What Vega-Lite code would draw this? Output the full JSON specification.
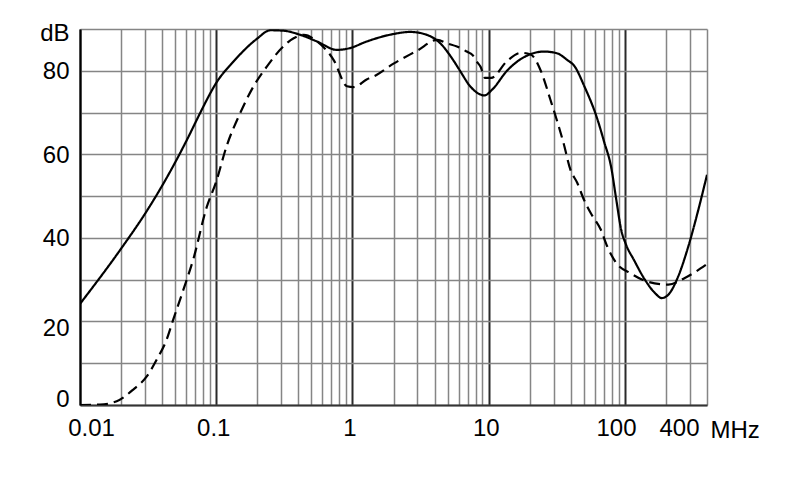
{
  "$schema": "https://vega.github.io/schema/vega-lite/v6.json",
  "width": 627,
  "height": 376,
  "autosize": "none",
  "padding": {"left": 80, "top": 29, "right": 83, "bottom": 94},
  "background": "white",
  "config": {
    "view": {"stroke": null},
    "font": "Liberation Sans"
  },
  "data": {
    "values": [
      {"series": "solid", "f": 0.01, "db": 24.2},
      {"series": "solid", "f": 0.02, "db": 37.4},
      {"series": "solid", "f": 0.031, "db": 46.5},
      {"series": "solid", "f": 0.0433, "db": 54.4},
      {"series": "solid", "f": 0.061, "db": 63.5},
      {"series": "solid", "f": 0.0762, "db": 69.9},
      {"series": "solid", "f": 0.09, "db": 74.5},
      {"series": "solid", "f": 0.1, "db": 77.1},
      {"series": "solid", "f": 0.133, "db": 82.1},
      {"series": "solid", "f": 0.198, "db": 87.6},
      {"series": "solid", "f": 0.25, "db": 89.7},
      {"series": "solid", "f": 0.31, "db": 89.6},
      {"series": "solid", "f": 0.414, "db": 88.6},
      {"series": "solid", "f": 0.55, "db": 87},
      {"series": "solid", "f": 0.77, "db": 85},
      {"series": "solid", "f": 0.95, "db": 85.4},
      {"series": "solid", "f": 1.27, "db": 87},
      {"series": "solid", "f": 2.0, "db": 88.8},
      {"series": "solid", "f": 2.65, "db": 89.3},
      {"series": "solid", "f": 3.52, "db": 88.6},
      {"series": "solid", "f": 4.4, "db": 86.6},
      {"series": "solid", "f": 5.5, "db": 82.5},
      {"series": "solid", "f": 6.18, "db": 79.9},
      {"series": "solid", "f": 7.3, "db": 76.3},
      {"series": "solid", "f": 8.7, "db": 74.3},
      {"series": "solid", "f": 9.3, "db": 74.1},
      {"series": "solid", "f": 10.6, "db": 75.5},
      {"series": "solid", "f": 13.7, "db": 80.1},
      {"series": "solid", "f": 19.3, "db": 83.7},
      {"series": "solid", "f": 25.5, "db": 84.6},
      {"series": "solid", "f": 31.6, "db": 84.2},
      {"series": "solid", "f": 38, "db": 82.5},
      {"series": "solid", "f": 42.4, "db": 81.2},
      {"series": "solid", "f": 50.3, "db": 76.3},
      {"series": "solid", "f": 62.9, "db": 68.3},
      {"series": "solid", "f": 70.3, "db": 63},
      {"series": "solid", "f": 79.1, "db": 57},
      {"series": "solid", "f": 86.3, "db": 49.2},
      {"series": "solid", "f": 93.7, "db": 42.0},
      {"series": "solid", "f": 101.8, "db": 38.4},
      {"series": "solid", "f": 116, "db": 34.8},
      {"series": "solid", "f": 140, "db": 30},
      {"series": "solid", "f": 166, "db": 26.8},
      {"series": "solid", "f": 186, "db": 25.6},
      {"series": "solid", "f": 208, "db": 26.4},
      {"series": "solid", "f": 246, "db": 30.8},
      {"series": "solid", "f": 292, "db": 38},
      {"series": "solid", "f": 346, "db": 46.8},
      {"series": "solid", "f": 400, "db": 55.1},
      {"series": "dashed", "f": 0.01, "db": 0},
      {"series": "dashed", "f": 0.014, "db": 0.1},
      {"series": "dashed", "f": 0.0186, "db": 0.9},
      {"series": "dashed", "f": 0.0246, "db": 3.7},
      {"series": "dashed", "f": 0.031, "db": 6.9},
      {"series": "dashed", "f": 0.0366, "db": 10.9},
      {"series": "dashed", "f": 0.0433, "db": 15.7},
      {"series": "dashed", "f": 0.0484, "db": 20.5},
      {"series": "dashed", "f": 0.0574, "db": 27.6},
      {"series": "dashed", "f": 0.068, "db": 35},
      {"series": "dashed", "f": 0.085, "db": 47.3},
      {"series": "dashed", "f": 0.1, "db": 53.5},
      {"series": "dashed", "f": 0.119, "db": 61.9},
      {"series": "dashed", "f": 0.15, "db": 69.9},
      {"series": "dashed", "f": 0.188, "db": 76.3},
      {"series": "dashed", "f": 0.235, "db": 81},
      {"series": "dashed", "f": 0.31, "db": 85.8},
      {"series": "dashed", "f": 0.37, "db": 87.8},
      {"series": "dashed", "f": 0.44, "db": 88.6},
      {"series": "dashed", "f": 0.55, "db": 87},
      {"series": "dashed", "f": 0.73, "db": 82.5},
      {"series": "dashed", "f": 0.91, "db": 76.3},
      {"series": "dashed", "f": 1.02, "db": 76.1},
      {"series": "dashed", "f": 1.27, "db": 77.9},
      {"series": "dashed", "f": 1.5, "db": 79},
      {"series": "dashed", "f": 2.0, "db": 81.7},
      {"series": "dashed", "f": 2.98, "db": 84.8},
      {"series": "dashed", "f": 4.2, "db": 87.4},
      {"series": "dashed", "f": 4.9, "db": 86.6},
      {"series": "dashed", "f": 5.85, "db": 85.8},
      {"series": "dashed", "f": 6.9, "db": 84.6},
      {"series": "dashed", "f": 7.6, "db": 83.8},
      {"series": "dashed", "f": 8.3, "db": 81.9},
      {"series": "dashed", "f": 8.7, "db": 81},
      {"series": "dashed", "f": 9.4, "db": 78.3},
      {"series": "dashed", "f": 10.4, "db": 78.3},
      {"series": "dashed", "f": 13.7, "db": 82.4},
      {"series": "dashed", "f": 17.2, "db": 84.3},
      {"series": "dashed", "f": 20.3, "db": 83.9},
      {"series": "dashed", "f": 24.1, "db": 80},
      {"series": "dashed", "f": 28.4, "db": 73},
      {"series": "dashed", "f": 35.4, "db": 62.7},
      {"series": "dashed", "f": 39.8, "db": 56.3},
      {"series": "dashed", "f": 44.6, "db": 53.2},
      {"series": "dashed", "f": 49.9, "db": 49.2},
      {"series": "dashed", "f": 55.9, "db": 46},
      {"series": "dashed", "f": 66.4, "db": 42},
      {"series": "dashed", "f": 74, "db": 38},
      {"series": "dashed", "f": 86.3, "db": 34},
      {"series": "dashed", "f": 109, "db": 31.6},
      {"series": "dashed", "f": 144, "db": 29.6},
      {"series": "dashed", "f": 208, "db": 28.8},
      {"series": "dashed", "f": 275, "db": 30.4},
      {"series": "dashed", "f": 395, "db": 33.6}
    ]
  },
  "mark": {"type": "line", "color": "black", "strokeWidth": 2.2, "interpolate": "monotone", "clip": true},
  "encoding": {
    "x": {
      "field": "f",
      "type": "quantitative",
      "scale": {"type": "log", "domain": [0.01, 400], "nice": false},
      "axis": {
        "values": [0.01, 0.02, 0.03, 0.04, 0.05, 0.06, 0.07, 0.08, 0.09, 0.1, 0.2, 0.3, 0.4, 0.5, 0.6, 0.7, 0.8, 0.9, 1, 2, 3, 4, 5, 6, 7, 8, 9, 10, 20, 30, 40, 50, 60, 70, 80, 90, 100, 200, 300, 400],
        "format": "~g",
        "labelExpr": "indexof([0.01, 0.1, 1, 10, 100, 400], datum.value) >= 0 ? datum.label : ''",
        "labelOverlap": false,
        "labelBound": false,
        "labelFlush": false,
        "labelFontSize": 24,
        "labelColor": "black",
        "labelPadding": 11,
        "labelOffset": {"condition": [
          {"test": "datum.value == 0.01", "value": 11},
          {"test": "datum.value == 100", "value": -9},
          {"test": "datum.value == 400", "value": -28}
        ], "value": -3},
        "ticks": false,
        "grid": true,
        "gridColor": {"condition": {"test": "indexof([0.01, 0.1, 1, 10, 100], datum.value) >= 0", "value": "#2a2a2a"}, "value": "#858585"},
        "gridWidth": {"condition": {"test": "indexof([0.01, 0.1, 1, 10, 100], datum.value) >= 0", "value": 2}, "value": 1.5},
        "gridOpacity": 1,
        "domain": true,
        "domainColor": "#333333",
        "domainWidth": 2,
        "title": "MHz",
        "titleFontSize": 24,
        "titleFontWeight": "normal",
        "titleColor": "black",
        "titleAlign": "left",
        "titleBaseline": "alphabetic",
        "titleX": 630,
        "titleY": 32
      }
    },
    "y": {
      "field": "db",
      "type": "quantitative",
      "scale": {"domain": [0, 90], "nice": false},
      "axis": {
        "values": [0, 10, 20, 30, 40, 50, 60, 70, 80, 90],
        "labelExpr": "datum.value == 90 ? 'dB' : (datum.value % 20 == 0 ? datum.label : '')",
        "labelFontSize": 24,
        "labelColor": "black",
        "labelPadding": 11,
        "labelOffset": {"condition": [
          {"test": "datum.value == 0", "value": -6},
          {"test": "datum.value == 20", "value": 7},
          {"test": "datum.value == 90", "value": 4}
        ], "value": 1},
        "labelOverlap": false,
        "labelBound": false,
        "labelFlush": false,
        "ticks": false,
        "grid": true,
        "gridColor": "#858585",
        "gridWidth": 1.5,
        "gridOpacity": 1,
        "domain": true,
        "domainColor": "black",
        "domainWidth": 2,
        "title": null
      }
    },
    "strokeDash": {
      "field": "series",
      "type": "nominal",
      "scale": {"domain": ["solid", "dashed"], "range": [[1, 0], [11, 6]]},
      "legend": null
    },
    "detail": {"field": "series"}
  }
}
